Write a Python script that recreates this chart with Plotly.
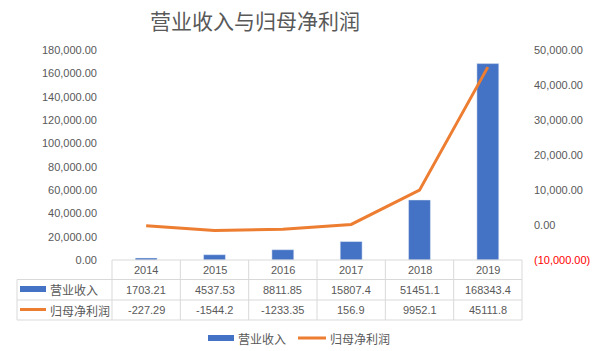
import plotly.graph_objects as go

W, H = 610, 351

years = ["2014", "2015", "2016", "2017", "2018", "2019"]
revenue = [1703.21, 4537.53, 8811.85, 15807.4, 51451.1, 168343.4]
profit = [-227.29, -1544.2, -1233.35, 156.9, 9952.1, 45111.8]
series_names = ["营业收入", "归母净利润"]
title_text = "营业收入与归母净利润"

left_ticks = [0, 20000, 40000, 60000, 80000, 100000, 120000, 140000, 160000, 180000]
right_ticks = [-10000, 0, 10000, 20000, 30000, 40000, 50000]
right_ticktext = ["<span style='color:#FF0000'>(10,000.00)</span>", "0.00", "10,000.00",
                  "20,000.00", "30,000.00", "40,000.00", "50,000.00"]

BLUE = "#4472C4"
ORANGE = "#ED7D31"
GREY = "#595959"
LINE = "#D9D9D9"
FONT = "Liberation Sans, Noto Sans CJK SC, sans-serif"
CJK = "Noto Sans CJK SC, sans-serif"


def px(x):
    return x / W


def py(y):
    return 1 - y / H


x0, x1 = 112, 522
ytop, ybot = 50, 260

fig = go.Figure()
fig.add_trace(go.Bar(x=years, y=revenue, name=series_names[0], marker_color=BLUE,
                     yaxis="y"))
fig.add_trace(go.Scatter(x=years, y=profit, name=series_names[1], mode="lines",
                         line=dict(color=ORANGE, width=3), yaxis="y2"))

shapes = []
annotations = []


def hline(xa, xb, y):
    shapes.append(dict(type="line", xref="paper", yref="paper", x0=px(xa), x1=px(xb),
                       y0=py(y), y1=py(y), line=dict(color=LINE, width=1)))


def vline(x, ya, yb):
    shapes.append(dict(type="line", xref="paper", yref="paper", x0=px(x), x1=px(x),
                       y0=py(ya), y1=py(yb), line=dict(color=LINE, width=1)))


def label(x, y, text, xref="paper", xanchor="center", font=FONT, size=11):
    annotations.append(dict(x=x, y=py(y), xref=xref, yref="paper", text=text,
                            xanchor=xanchor, yanchor="middle", showarrow=False,
                            font=dict(family=font, size=size, color=GREY)))


# data table grid
hline(x0, x1, 260)
hline(17, x1, 279.5)
hline(17, x1, 300)
hline(17, x1, 320)
vline(17, 279.5, 320)
for i in range(len(years) + 1):
    vline(x0 + i * (x1 - x0) / len(years), 260, 320)

# table text
for i, yr in enumerate(years):
    label(i, 270, yr, xref="x")
    label(i, 290, str(revenue[i]), xref="x")
    label(i, 310, str(profit[i]), xref="x")

# legend keys in table
shapes.append(dict(type="rect", xref="paper", yref="paper", x0=px(20), x1=px(46),
                   y0=py(292), y1=py(286), fillcolor=BLUE, line=dict(width=0)))
shapes.append(dict(type="line", xref="paper", yref="paper", x0=px(20), x1=px(46),
                   y0=py(309.5), y1=py(309.5), line=dict(color=ORANGE, width=3)))
label(px(48), 289.5, series_names[0], xanchor="left", font=CJK, size=12)
label(px(48), 310, series_names[1], xanchor="left", font=CJK, size=12)

# bottom legend
shapes.append(dict(type="rect", xref="paper", yref="paper", x0=px(208), x1=px(234),
                   y0=py(341), y1=py(335), fillcolor=BLUE, line=dict(width=0)))
shapes.append(dict(type="line", xref="paper", yref="paper", x0=px(298), x1=px(326),
                   y0=py(338), y1=py(338), line=dict(color=ORANGE, width=3)))
label(px(236), 338, series_names[0], xanchor="left", font=CJK, size=12)
label(px(328), 338, series_names[1], xanchor="left", font=CJK, size=12)

# title
label(px(255), 20, title_text, font=CJK, size=21)

fig.update_layout(
    width=W, height=H,
    margin=dict(l=0, r=0, t=0, b=0, pad=0, autoexpand=False),
    paper_bgcolor="white", plot_bgcolor="white",
    showlegend=False,
    bargap=0.68,
    font=dict(family=FONT, size=11, color=GREY),
    xaxis=dict(domain=[px(x0), px(x1)], type="category", range=[-0.5, 5.5],
               showticklabels=False, showgrid=False, zeroline=False, showline=False),
    yaxis=dict(domain=[py(ybot), py(ytop)], range=[0, 180000], tickvals=left_ticks,
               tickformat=",.2f", showgrid=False, zeroline=False, showline=False,
               ticks="", ticklabelstandoff=14,
               tickfont=dict(family=FONT, size=11, color=GREY)),
    yaxis2=dict(overlaying="y", side="right", range=[-10000, 50000], tickvals=right_ticks,
                ticktext=right_ticktext, showgrid=False, zeroline=False, showline=False,
                ticks="", ticklabelstandoff=11,
                tickfont=dict(family=FONT, size=11, color=GREY)),
    shapes=shapes,
    annotations=annotations,
)

fig.write_html("out.html")
